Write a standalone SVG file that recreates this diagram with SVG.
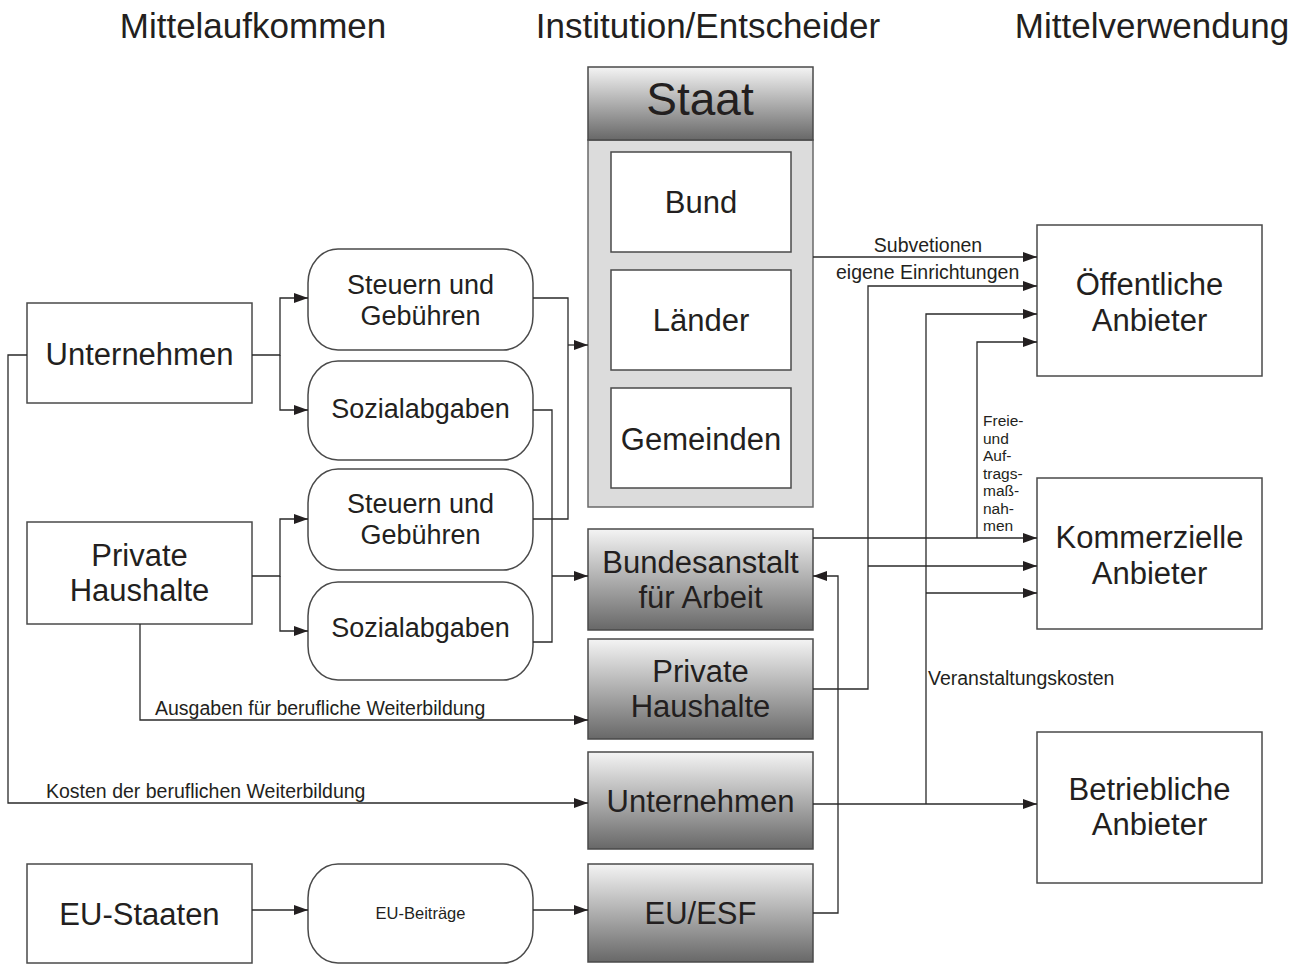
<svg xmlns="http://www.w3.org/2000/svg" width="1308" height="965" viewBox="0 0 1308 965">
<style>
text{font-family:"Liberation Sans",Arial,sans-serif;fill:#231f20}
.hd{font-size:35px;text-anchor:middle}
.nb{font-size:31px;text-anchor:middle}
.rb{font-size:27px;text-anchor:middle}
.sm{font-size:19.5px}
.vt{font-size:15.5px}
.box{fill:#fff;stroke:#4a4a4a;stroke-width:1.5}
.dark{fill:url(#g);stroke:#4a4a4a;stroke-width:1.5}
.conn path{fill:none;stroke:#2a2a2a;stroke-width:1.3}
</style>
<defs>
<linearGradient id="g" x1="0" y1="0" x2="0" y2="1">
<stop offset="0" stop-color="#f4f4f4"/>
<stop offset="1" stop-color="#686868"/>
</linearGradient>
<marker id="a" markerUnits="userSpaceOnUse" markerWidth="14" markerHeight="10" refX="14" refY="5" orient="auto">
<path d="M0,0 L14,5 L0,10 z" fill="#231f20"/>
</marker>
</defs>
<rect width="1308" height="965" fill="#fff"/>

<g id="headers">
<text class="hd" x="253" y="38">Mittelaufkommen</text>
<text class="hd" x="708" y="38">Institution/Entscheider</text>
<text class="hd" x="1152" y="38">Mittelverwendung</text>
</g>

<g id="staat">
<rect x="588" y="140" width="225" height="367" fill="#dcdcdc" stroke="#6a6a6a" stroke-width="1.5"/>
<rect class="dark" x="588" y="67" width="225" height="73"/>
<text x="700" y="115" style="font-size:46px;text-anchor:middle">Staat</text>
</g>
<g id="bund"><rect class="box" x="611" y="152" width="180" height="100"/><text class="nb" x="701" y="213">Bund</text></g>
<g id="laender"><rect class="box" x="611" y="270" width="180" height="100"/><text class="nb" x="701" y="331">Länder</text></g>
<g id="gemeinden"><rect class="box" x="611" y="388" width="180" height="100"/><text class="nb" x="701" y="450">Gemeinden</text></g>

<g id="unternehmen-l"><rect class="box" x="27" y="303" width="225" height="100"/><text class="nb" x="139.5" y="365">Unternehmen</text></g>
<g id="haushalte-l"><rect class="box" x="27" y="522" width="225" height="102"/><text class="nb" x="139.5" y="566">Private</text><text class="nb" x="139.5" y="601">Haushalte</text></g>
<g id="eustaaten"><rect class="box" x="27" y="864" width="225" height="99"/><text class="nb" x="139.5" y="925">EU-Staaten</text></g>

<g id="steuern1"><rect class="box" x="308" y="249" width="225" height="101" rx="30" ry="34"/><text class="rb" x="420.5" y="294">Steuern und</text><text class="rb" x="420.5" y="325">Gebühren</text></g>
<g id="sozial1"><rect class="box" x="308" y="361" width="225" height="99" rx="30" ry="34"/><text class="rb" x="420.5" y="418">Sozialabgaben</text></g>
<g id="steuern2"><rect class="box" x="308" y="469" width="225" height="101" rx="30" ry="34"/><text class="rb" x="420.5" y="513">Steuern und</text><text class="rb" x="420.5" y="544">Gebühren</text></g>
<g id="sozial2"><rect class="box" x="308" y="582" width="225" height="98" rx="30" ry="34"/><text class="rb" x="420.5" y="637">Sozialabgaben</text></g>
<g id="eubeitraege"><rect class="box" x="308" y="864" width="225" height="99" rx="30" ry="34"/><text x="420.5" y="919" style="font-size:16.5px;text-anchor:middle">EU-Beiträge</text></g>

<g id="ba"><rect class="dark" x="588" y="529" width="225" height="101"/><text class="nb" x="700.5" y="573">Bundesanstalt</text><text class="nb" x="700.5" y="608">für Arbeit</text></g>
<g id="haushalte-m"><rect class="dark" x="588" y="639" width="225" height="100"/><text class="nb" x="700.5" y="682">Private</text><text class="nb" x="700.5" y="717">Haushalte</text></g>
<g id="unternehmen-m"><rect class="dark" x="588" y="752" width="225" height="97"/><text class="nb" x="700.5" y="812">Unternehmen</text></g>
<g id="euesf"><rect class="dark" x="588" y="864" width="225" height="98"/><text class="nb" x="700.5" y="924">EU/ESF</text></g>

<g id="oeffentliche"><rect class="box" x="1037" y="225" width="225" height="151"/><text class="nb" x="1149.5" y="295">Öffentliche</text><text class="nb" x="1149.5" y="331">Anbieter</text></g>
<g id="kommerzielle"><rect class="box" x="1037" y="478" width="225" height="151"/><text class="nb" x="1149.5" y="548">Kommerzielle</text><text class="nb" x="1149.5" y="584">Anbieter</text></g>
<g id="betriebliche"><rect class="box" x="1037" y="732" width="225" height="151"/><text class="nb" x="1149.5" y="800">Betriebliche</text><text class="nb" x="1149.5" y="835">Anbieter</text></g>

<g id="connectors" class="conn">
<path d="M252,355 H280 V298 H308" marker-end="url(#a)"/>
<path d="M280,355 V410 H308" marker-end="url(#a)"/>
<path d="M252,576 H280 V519 H308" marker-end="url(#a)"/>
<path d="M280,576 V631 H308" marker-end="url(#a)"/>
<path d="M533,298 H568 V519 H533"/>
<path d="M568,345 H588" marker-end="url(#a)"/>
<path d="M533,410 H552 V642 H533"/>
<path d="M552,576 H588" marker-end="url(#a)"/>
<path d="M140,624 V720 H588" marker-end="url(#a)"/>
<path d="M27,355 H8 V803 H588" marker-end="url(#a)"/>
<path d="M252,910 H308" marker-end="url(#a)"/>
<path d="M533,910 H588" marker-end="url(#a)"/>
<path d="M813,913 H838 V576 H813" marker-end="url(#a)"/>
<path d="M813,257 H1037" marker-end="url(#a)"/>
<path d="M813,689 H868 V286 H1037" marker-end="url(#a)"/>
<path d="M868,566 H1037" marker-end="url(#a)"/>
<path d="M813,804 H1037" marker-end="url(#a)"/>
<path d="M926,804 V314 H1037" marker-end="url(#a)"/>
<path d="M926,593 H1037" marker-end="url(#a)"/>
<path d="M813,538 H1037" marker-end="url(#a)"/>
<path d="M977,538 V342 H1037" marker-end="url(#a)"/>
</g>

<g id="labels">
<text class="sm" x="928" y="252" text-anchor="middle">Subvetionen</text>
<text class="sm" x="836" y="279">eigene Einrichtungen</text>
<text class="vt" x="983" y="426">Freie-</text>
<text class="vt" x="983" y="443.5">und</text>
<text class="vt" x="983" y="461">Auf-</text>
<text class="vt" x="983" y="478.5">trags-</text>
<text class="vt" x="983" y="496">maß-</text>
<text class="vt" x="983" y="513.5">nah-</text>
<text class="vt" x="983" y="531">men</text>
<text class="sm" x="928" y="685">Veranstaltungskosten</text>
<text class="sm" x="155" y="715">Ausgaben für berufliche Weiterbildung</text>
<text class="sm" x="46" y="798">Kosten der beruflichen Weiterbildung</text>
</g>
</svg>
